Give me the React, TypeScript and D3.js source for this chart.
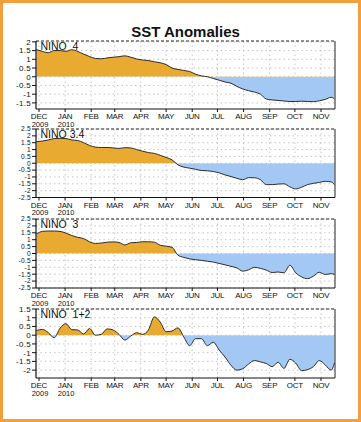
import React from "react";
import * as d3 from "d3";

const weekDates = [
  "2009-11-28","2009-12-05","2009-12-12","2009-12-19","2009-12-26",
  "2010-01-02","2010-01-09","2010-01-16","2010-01-23","2010-01-30",
  "2010-02-06","2010-02-13","2010-02-20","2010-02-27",
  "2010-03-06","2010-03-13","2010-03-20","2010-03-27",
  "2010-04-03","2010-04-10","2010-04-17","2010-04-24",
  "2010-05-01","2010-05-08","2010-05-15","2010-05-22","2010-05-29",
  "2010-06-05","2010-06-12","2010-06-19","2010-06-26",
  "2010-07-03","2010-07-10","2010-07-17","2010-07-24","2010-07-31",
  "2010-08-07","2010-08-14","2010-08-21","2010-08-28",
  "2010-09-04","2010-09-11","2010-09-18","2010-09-25",
  "2010-10-02","2010-10-09","2010-10-16","2010-10-23","2010-10-30",
  "2010-11-06","2010-11-13","2010-11-17",
];

const nino4 = [
  1.56, 1.45, 1.38, 1.5, 1.5, 1.46, 1.55, 1.45, 1.3, 1.16,
  1.05, 1.03, 1.08, 1.12, 1.15, 1.2, 1.12, 1.02, 0.96, 0.93,
  0.86, 0.8, 0.7, 0.5, 0.42, 0.36, 0.3, 0.15, 0.05, 0.0,
  -0.1, -0.2, -0.3, -0.37, -0.55, -0.7, -0.8, -0.88, -1.0, -1.28,
  -1.33, -1.36, -1.39, -1.42, -1.42, -1.4, -1.42, -1.43, -1.38, -1.3,
  -1.18, -1.28,
];

const nino34 = [
  1.58, 1.62, 1.7, 1.8, 1.82, 1.8, 1.7, 1.66, 1.5, 1.3,
  1.18, 1.15, 1.15, 1.12, 1.08, 1.14, 1.12, 1.0, 0.88, 0.78,
  0.72, 0.58, 0.42, 0.25, -0.12, -0.28, -0.36, -0.44, -0.53, -0.55,
  -0.6, -0.7, -0.85, -0.97, -1.1, -1.2, -1.05, -1.06, -1.2, -1.56,
  -1.56, -1.52, -1.5, -1.72, -1.87, -1.75, -1.56, -1.47, -1.4, -1.32,
  -1.36, -1.56,
];

const nino3 = [
  1.42, 1.6, 1.63, 1.63, 1.6, 1.48, 1.3, 1.17, 1.08, 0.85,
  0.73, 0.76, 0.82, 0.84, 0.8, 0.62, 0.78, 0.8, 0.85, 0.85,
  0.82, 0.6, 0.53, 0.45, -0.12, -0.28, -0.39, -0.45, -0.5, -0.56,
  -0.62, -0.72, -0.82, -0.93, -1.04, -1.28, -1.18, -1.0, -1.08, -1.2,
  -1.38, -1.34, -1.4, -0.85, -1.4, -1.7, -1.82, -1.64, -1.36, -1.52,
  -1.46, -1.52,
];

const nino12 = [
  0.27, 0.33, 0.15, -0.15, 0.4, 0.66, 0.32, 0.3, 0.07, 0.38,
  0.0, 0.05, 0.36, 0.3, 0.05, -0.28, -0.05, 0.14, 0.05, 0.3,
  1.05, 0.75, 0.2, 0.24, 0.42, -0.1, -0.6, -0.2, -0.2, -0.6,
  -0.4, -0.85, -1.25, -1.72, -2.0, -1.92, -1.65, -1.45, -1.53, -1.62,
  -1.8, -1.55, -1.9, -1.38, -1.6, -2.03, -1.97, -1.8, -1.45, -1.7,
  -2.0, -1.59,
];

const monthLabels = ["DEC","JAN","FEB","MAR","APR","MAY","JUN","JUL","AUG","SEP","OCT","NOV"];
const yearLabels = ["2009", "2010"];
const panelNames = ["NINO  4", "NINO 3.4", "NINO  3", "NINO  1+2"];
const ticks4 = [2, 1.5, 1, 0.5, 0, -0.5, -1, -1.5];
const ticks34 = [2.5, 2, 1.5, 1, 0.5, 0, -0.5, -1, -1.5, -2, -2.5];
const ticks3 = [2.5, 2, 1.5, 1, 0.5, 0, -0.5, -1, -1.5, -2, -2.5];
const ticks12 = [1.5, 1, 0.5, 0, -0.5, -1, -1.5, -2];

const W = 361;
const H = 422;
const X0 = 36;
const X1 = 335;

const parse = d3.timeParse("%Y-%m-%d");
const dates = weekDates.map((s) => parse(s) as Date);

const x = d3
  .scaleTime()
  .domain([new Date(2009, 11, 1), new Date(2010, 10, 1)])
  .range([39, 321]);

const monthTicks = d3.timeMonth.range(new Date(2009, 11, 1), new Date(2010, 10, 2));

const panels = [
  { name: panelNames[0], values: nino4, ticks: ticks4, top: 41, bottom: 109, domain: [-1.85, 2.05], tickFont: 8 },
  { name: panelNames[1], values: nino34, ticks: ticks34, top: 129, bottom: 197.5, domain: [-2.5, 2.5], tickFont: 6.6 },
  { name: panelNames[2], values: nino3, ticks: ticks3, top: 219, bottom: 288, domain: [-2.5, 2.5], tickFont: 6.6 },
  { name: panelNames[3], values: nino12, ticks: ticks12, top: 309, bottom: 378, domain: [-2.45, 1.5], tickFont: 8 },
];

const ORANGE = "#E9AA32";
const BLUE = "#A3C8F4";
const FONT = "Liberation Sans, Arial, sans-serif";

function Panel({ p, idx }: { p: any; idx: number }) {
  const y = d3.scaleLinear().domain(p.domain).range([p.bottom, p.top]);
  const pts = p.values.map((v: number, i: number) => [x(dates[i]), y(v)] as [number, number]);
  const curve = d3.curveMonotoneX;
  const line = d3.line<[number, number]>().x((d) => d[0]).y((d) => d[1]).curve(curve)(pts) || "";
  const area =
    d3
      .area<[number, number]>()
      .x((d) => d[0])
      .y0(y(0))
      .y1((d) => d[1])
      .curve(curve)(pts) || "";
  const y0 = y(0);
  const cpA = `clipA${idx}`;
  const cpB = `clipB${idx}`;
  return (
    <g>
      <defs>
        <clipPath id={cpA}>
          <rect x={X0} y={p.top} width={X1 - X0} height={y0 - p.top} />
        </clipPath>
        <clipPath id={cpB}>
          <rect x={X0} y={y0} width={X1 - X0} height={p.bottom - y0} />
        </clipPath>
      </defs>
      {p.ticks.map((t: number) => (
        <line key={"h" + t} x1={X0} x2={X1} y1={y(t)} y2={y(t)} stroke="#b8b8b8" strokeWidth={0.8} strokeDasharray="1.5,3" />
      ))}
      {monthTicks.map((m, i) => (
        <line key={"v" + i} x1={x(m)} x2={x(m)} y1={p.top} y2={p.bottom} stroke="#b8b8b8" strokeWidth={0.8} strokeDasharray="1.5,3" />
      ))}
      <path d={area} fill={ORANGE} clipPath={`url(#${cpA})`} />
      <path d={area} fill={BLUE} clipPath={`url(#${cpB})`} />
      <path d={line} fill="none" stroke="#2b2b2b" strokeWidth={1} />
      <line x1={X0} x2={X1} y1={p.top} y2={p.top} stroke="#222" strokeWidth={1} strokeDasharray="3,2" />
      <line x1={X1} x2={X1} y1={p.top} y2={p.bottom} stroke="#222" strokeWidth={1} />
      <line x1={X0} x2={X1} y1={p.bottom} y2={p.bottom} stroke="#111" strokeWidth={1.2} />
      <line x1={X0} x2={X0} y1={p.top} y2={p.bottom} stroke="#111" strokeWidth={1.2} />
      {p.ticks.map((t: number) => (
        <g key={"t" + t}>
          <line x1={X0 - 4} x2={X0} y1={y(t)} y2={y(t)} stroke="#111" strokeWidth={1} />
          <text x={X0 - 5} y={y(t) + p.tickFont * 0.36} textAnchor="end" fontSize={p.tickFont} fontFamily={FONT} fill="#111" letterSpacing={0.3}>
            {String(t)}
          </text>
        </g>
      ))}
      {monthTicks.map((m, i) => (
        <g key={"m" + i}>
          <line x1={x(m)} x2={x(m)} y1={p.bottom} y2={p.bottom + 3} stroke="#111" strokeWidth={1} />
          <text x={x(m)} y={p.bottom + 10} textAnchor="middle" fontSize={8} fontFamily={FONT} fill="#111" letterSpacing={-0.2}>
            {monthLabels[i]}
          </text>
        </g>
      ))}
      {yearLabels.map((yl, i) => (
        <text key={"y" + i} x={x(monthTicks[i]) + 1} y={p.bottom + 17.5} textAnchor="middle" fontSize={7.5} fontFamily={FONT} fill="#111">
          {yl}
        </text>
      ))}
      <text x={40.5} y={p.top + 8.5} fontSize={10.5} fontFamily={FONT} fill="#111" style={{ whiteSpace: "pre" }}>
        {p.name}
      </text>
    </g>
  );
}

export default function App() {
  return (
    <svg width={W} height={H} style={{ position: "absolute", left: 0, top: 0, background: "#fff" }}>
      <rect x={0} y={0} width={W} height={H} fill="#fff" />
      <rect x={1.5} y={1.5} width={W - 3} height={H - 3} fill="none" stroke="#F2A03D" strokeWidth={3} />
      <text x={(X0 + X1) / 2} y={37} textAnchor="middle" fontSize={15} fontWeight="bold" fontFamily={FONT} fill="#111">
        SST Anomalies
      </text>
      {panels.map((p, i) => (
        <Panel key={i} p={p} idx={i} />
      ))}
    </svg>
  );
}
